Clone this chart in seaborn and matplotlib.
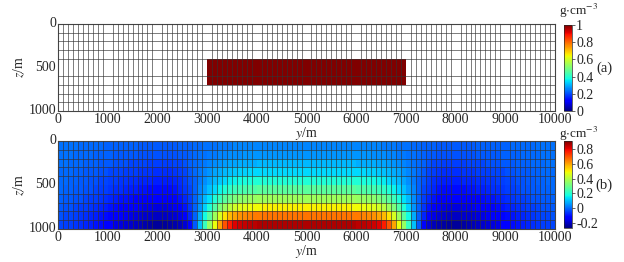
import numpy as np
import matplotlib
matplotlib.use("Agg")
import matplotlib.pyplot as plt
from matplotlib.ticker import FormatStrFormatter
import seaborn as sns

# axes / grid
y_tick_values = [0, 1000, 2000, 3000, 4000, 5000, 6000, 7000, 8000, 9000, 10000]
z_tick_values = [0, 500, 1000]
cell_size = 100
n_y = 100
n_z = 10

# (a) model: one rectangular block
block_y = [3000, 7000]
block_z = [400, 700]
block_density = 1.0
cbar_ticks_a = [0, 0.2, 0.4, 0.6, 0.8, 1.0]

# (b) inversion result, one row per 100 m depth layer
inv_z050 = [0.01, 0.01, 0.01, 0.01, 0.00, 0.00, 0.00,
            0.00, 0.00, -0.01, -0.01, -0.01, -0.01, -0.01, -0.01,
            -0.01, -0.02, -0.02, -0.02, -0.02, -0.02, -0.02, -0.02, -0.02, -0.01, -0.01,
            -0.01, 0.00, 0.00, 0.01, 0.01, 0.01, 0.02, 0.02, 0.02,
            0.03, 0.03, 0.03, 0.03, 0.03, 0.03, 0.03, 0.03, 0.03, 0.03, 0.03, 0.03, 0.03, 0.03, 0.03,
            0.03, 0.03, 0.03, 0.03, 0.03, 0.03, 0.03, 0.03, 0.03, 0.03, 0.03, 0.03, 0.03, 0.03, 0.03,
            0.02, 0.02, 0.02, 0.01, 0.01, 0.01, 0.00, 0.00, -0.01,
            -0.01, -0.01, -0.02, -0.02, -0.02, -0.02, -0.02, -0.02, -0.02, -0.02, -0.01,
            -0.01, -0.01, -0.01, -0.01, -0.01, -0.01, 0.00, 0.00,
            0.00, 0.00, 0.00, 0.01, 0.01, 0.01, 0.01]
inv_z150 = [0.01, 0.01, 0.01, 0.00, 0.00, 0.00, 0.00,
            -0.01, -0.01, -0.01, -0.01, -0.02, -0.02, -0.02, -0.02,
            -0.02, -0.03, -0.03, -0.03, -0.03, -0.03, -0.03, -0.03, -0.03, -0.02, -0.02,
            -0.01, 0.00, 0.01, 0.01, 0.02, 0.02, 0.03, 0.03, 0.04,
            0.04, 0.04, 0.05, 0.05, 0.05, 0.05, 0.05, 0.05, 0.05, 0.05, 0.05, 0.05, 0.05, 0.05, 0.05,
            0.05, 0.05, 0.05, 0.05, 0.05, 0.05, 0.05, 0.05, 0.05, 0.05, 0.05, 0.05, 0.05, 0.04, 0.04,
            0.04, 0.03, 0.03, 0.02, 0.02, 0.01, 0.01, 0.00, -0.01,
            -0.02, -0.02, -0.03, -0.03, -0.03, -0.03, -0.03, -0.03, -0.03, -0.03, -0.02,
            -0.02, -0.02, -0.02, -0.02, -0.01, -0.01, -0.01, -0.01,
            0.00, 0.00, 0.00, 0.00, 0.01, 0.01, 0.01]
inv_z250 = [0.01, 0.01, 0.00, 0.00, 0.00, -0.01, -0.01,
            -0.01, -0.02, -0.02, -0.02, -0.03, -0.03, -0.03, -0.04,
            -0.04, -0.04, -0.04, -0.05, -0.05, -0.05, -0.05, -0.05, -0.04, -0.04, -0.03,
            -0.01, 0.00, 0.01, 0.02, 0.03, 0.04, 0.05, 0.06, 0.07,
            0.07, 0.08, 0.08, 0.08, 0.08, 0.09, 0.09, 0.09, 0.09, 0.09, 0.09, 0.09, 0.09, 0.09, 0.09,
            0.09, 0.09, 0.09, 0.09, 0.09, 0.09, 0.09, 0.09, 0.09, 0.09, 0.08, 0.08, 0.08, 0.08, 0.07,
            0.07, 0.06, 0.05, 0.04, 0.03, 0.02, 0.01, 0.00, -0.01,
            -0.03, -0.04, -0.04, -0.05, -0.05, -0.05, -0.05, -0.05, -0.04, -0.04, -0.04,
            -0.04, -0.03, -0.03, -0.03, -0.02, -0.02, -0.02, -0.01,
            -0.01, -0.01, 0.00, 0.00, 0.00, 0.01, 0.01]
inv_z350 = [0.00, 0.00, 0.00, -0.01, -0.01, -0.02, -0.02,
            -0.02, -0.03, -0.03, -0.04, -0.04, -0.04, -0.05, -0.05,
            -0.05, -0.06, -0.06, -0.06, -0.07, -0.07, -0.07, -0.07, -0.06, -0.05, -0.04,
            -0.02, 0.00, 0.02, 0.03, 0.05, 0.07, 0.08, 0.09, 0.10,
            0.11, 0.12, 0.12, 0.13, 0.13, 0.13, 0.13, 0.13, 0.13, 0.13, 0.13, 0.13, 0.13, 0.13, 0.13,
            0.13, 0.13, 0.13, 0.13, 0.13, 0.13, 0.13, 0.13, 0.13, 0.13, 0.13, 0.13, 0.12, 0.12, 0.11,
            0.10, 0.09, 0.08, 0.07, 0.05, 0.03, 0.02, 0.00, -0.02,
            -0.04, -0.05, -0.06, -0.07, -0.07, -0.07, -0.07, -0.06, -0.06, -0.06, -0.05,
            -0.05, -0.05, -0.04, -0.04, -0.04, -0.03, -0.03, -0.02,
            -0.02, -0.02, -0.01, -0.01, 0.00, 0.00, 0.00]
inv_z450 = [0.00, 0.00, -0.01, -0.01, -0.02, -0.02, -0.03,
            -0.03, -0.04, -0.04, -0.05, -0.05, -0.06, -0.06, -0.07,
            -0.07, -0.08, -0.08, -0.08, -0.09, -0.09, -0.09, -0.09, -0.08, -0.07, -0.05,
            -0.03, -0.01, 0.02, 0.04, 0.07, 0.09, 0.11, 0.13, 0.15,
            0.16, 0.17, 0.18, 0.18, 0.19, 0.19, 0.19, 0.19, 0.19, 0.19, 0.19, 0.19, 0.19, 0.19, 0.19,
            0.19, 0.19, 0.19, 0.19, 0.19, 0.19, 0.19, 0.19, 0.19, 0.19, 0.19, 0.18, 0.18, 0.17, 0.16,
            0.15, 0.13, 0.11, 0.09, 0.07, 0.04, 0.02, -0.01, -0.03,
            -0.05, -0.07, -0.08, -0.09, -0.09, -0.09, -0.09, -0.08, -0.08, -0.08, -0.07,
            -0.07, -0.06, -0.06, -0.05, -0.05, -0.04, -0.04, -0.03,
            -0.03, -0.02, -0.02, -0.01, -0.01, 0.00, 0.00]
inv_z550 = [0.00, -0.01, -0.01, -0.02, -0.02, -0.03, -0.03,
            -0.04, -0.05, -0.05, -0.06, -0.07, -0.07, -0.08, -0.09,
            -0.09, -0.10, -0.10, -0.11, -0.11, -0.11, -0.11, -0.11, -0.10, -0.08, -0.06,
            -0.04, -0.01, 0.03, 0.06, 0.10, 0.13, 0.16, 0.19, 0.21,
            0.23, 0.24, 0.25, 0.26, 0.26, 0.27, 0.27, 0.27, 0.27, 0.27, 0.27, 0.27, 0.27, 0.27, 0.27,
            0.27, 0.27, 0.27, 0.27, 0.27, 0.27, 0.27, 0.27, 0.27, 0.27, 0.26, 0.26, 0.25, 0.24, 0.23,
            0.21, 0.19, 0.16, 0.13, 0.10, 0.06, 0.03, -0.01, -0.04,
            -0.06, -0.08, -0.10, -0.11, -0.11, -0.11, -0.11, -0.11, -0.10, -0.10, -0.09,
            -0.09, -0.08, -0.07, -0.07, -0.06, -0.05, -0.05, -0.04,
            -0.03, -0.03, -0.02, -0.02, -0.01, -0.01, 0.00]
inv_z650 = [-0.01, -0.02, -0.02, -0.03, -0.03, -0.04, -0.05,
            -0.05, -0.06, -0.07, -0.08, -0.09, -0.10, -0.10, -0.11,
            -0.12, -0.12, -0.13, -0.13, -0.14, -0.14, -0.14, -0.13, -0.12, -0.10, -0.08,
            -0.05, -0.01, 0.04, 0.09, 0.14, 0.19, 0.23, 0.27, 0.30,
            0.32, 0.34, 0.35, 0.36, 0.36, 0.37, 0.37, 0.37, 0.37, 0.37, 0.37, 0.37, 0.37, 0.37, 0.37,
            0.37, 0.37, 0.37, 0.37, 0.37, 0.37, 0.37, 0.37, 0.37, 0.37, 0.36, 0.36, 0.35, 0.34, 0.32,
            0.30, 0.27, 0.23, 0.19, 0.14, 0.09, 0.04, -0.01, -0.05,
            -0.08, -0.10, -0.12, -0.13, -0.14, -0.14, -0.14, -0.13, -0.13, -0.12, -0.12,
            -0.11, -0.10, -0.10, -0.09, -0.08, -0.07, -0.06, -0.05,
            -0.05, -0.04, -0.03, -0.03, -0.02, -0.02, -0.01]
inv_z750 = [-0.02, -0.03, -0.03, -0.04, -0.05, -0.05, -0.06,
            -0.07, -0.08, -0.09, -0.10, -0.11, -0.12, -0.13, -0.14,
            -0.14, -0.15, -0.16, -0.16, -0.17, -0.17, -0.17, -0.16, -0.15, -0.13, -0.10,
            -0.06, -0.01, 0.05, 0.12, 0.19, 0.26, 0.32, 0.37, 0.41,
            0.44, 0.46, 0.47, 0.48, 0.49, 0.49, 0.50, 0.50, 0.50, 0.50, 0.50, 0.50, 0.50, 0.50, 0.50,
            0.50, 0.50, 0.50, 0.50, 0.50, 0.50, 0.50, 0.50, 0.50, 0.49, 0.49, 0.48, 0.47, 0.46, 0.44,
            0.41, 0.37, 0.32, 0.26, 0.19, 0.12, 0.05, -0.01, -0.06,
            -0.10, -0.13, -0.15, -0.16, -0.17, -0.17, -0.17, -0.16, -0.16, -0.15, -0.14,
            -0.14, -0.13, -0.12, -0.11, -0.10, -0.09, -0.08, -0.07,
            -0.06, -0.05, -0.05, -0.04, -0.03, -0.03, -0.02]
inv_z850 = [-0.03, -0.04, -0.04, -0.05, -0.06, -0.07, -0.08,
            -0.09, -0.10, -0.11, -0.12, -0.13, -0.14, -0.15, -0.16,
            -0.17, -0.18, -0.19, -0.19, -0.20, -0.20, -0.20, -0.19, -0.18, -0.16, -0.13,
            -0.08, -0.01, 0.08, 0.17, 0.27, 0.37, 0.45, 0.52, 0.57,
            0.60, 0.62, 0.63, 0.64, 0.65, 0.65, 0.66, 0.66, 0.66, 0.66, 0.66, 0.66, 0.66, 0.66, 0.66,
            0.66, 0.66, 0.66, 0.66, 0.66, 0.66, 0.66, 0.66, 0.66, 0.65, 0.65, 0.64, 0.63, 0.62, 0.60,
            0.57, 0.52, 0.45, 0.37, 0.27, 0.17, 0.08, -0.01, -0.08,
            -0.13, -0.16, -0.18, -0.19, -0.20, -0.20, -0.20, -0.19, -0.19, -0.18, -0.17,
            -0.16, -0.15, -0.14, -0.13, -0.12, -0.11, -0.10, -0.09,
            -0.08, -0.07, -0.06, -0.05, -0.04, -0.04, -0.03]
inv_z950 = [-0.04, -0.05, -0.05, -0.06, -0.07, -0.08, -0.09,
            -0.10, -0.11, -0.13, -0.14, -0.16, -0.17, -0.18, -0.19,
            -0.20, -0.21, -0.22, -0.23, -0.24, -0.24, -0.24, -0.23, -0.22, -0.21, -0.18,
            -0.12, -0.02, 0.10, 0.22, 0.36, 0.48, 0.60, 0.70, 0.77,
            0.81, 0.83, 0.84, 0.85, 0.85, 0.86, 0.86, 0.86, 0.86, 0.86, 0.86, 0.86, 0.86, 0.86, 0.86,
            0.86, 0.86, 0.86, 0.86, 0.86, 0.86, 0.86, 0.86, 0.86, 0.86, 0.85, 0.85, 0.84, 0.83, 0.81,
            0.77, 0.70, 0.60, 0.48, 0.36, 0.22, 0.10, -0.02, -0.12,
            -0.18, -0.21, -0.22, -0.23, -0.24, -0.24, -0.24, -0.23, -0.22, -0.21, -0.20,
            -0.19, -0.18, -0.17, -0.16, -0.14, -0.13, -0.11, -0.10,
            -0.09, -0.08, -0.07, -0.06, -0.05, -0.05, -0.04]
inv_range = [-0.27, 0.91]
cbar_ticks_b = [-0.2, 0, 0.2, 0.4, 0.6, 0.8]

inverted = np.array([inv_z050, inv_z150, inv_z250, inv_z350, inv_z450,
                     inv_z550, inv_z650, inv_z750, inv_z850, inv_z950])
assert inverted.shape == (n_z, n_y), inverted.shape

sns.set_style("white")
plt.rcParams["font.family"] = "Liberation Serif"
plt.rcParams["mathtext.fontset"] = "stix"
plt.rcParams["axes.unicode_minus"] = False

y_centers = np.arange(n_y) * cell_size + cell_size / 2
z_centers = np.arange(n_z) * cell_size + cell_size / 2
inside = ((z_centers[:, None] > block_z[0]) & (z_centers[:, None] < block_z[1])
          & (y_centers[None, :] > block_y[0]) & (y_centers[None, :] < block_y[1]))
model = np.where(inside, block_density, 0.0)

W, H = 624, 262
fig = plt.figure(figsize=(W / 100, H / 100), dpi=100)


def box(x0, y0, x1, y1):
    return [x0 / W, 1 - y1 / H, (x1 - x0) / W, (y1 - y0) / H]


ax1 = fig.add_axes(box(58, 24, 555, 111))
cax1 = fig.add_axes(box(564, 25, 572, 111))
ax2 = fig.add_axes(box(58, 141, 555, 229))
cax2 = fig.add_axes(box(564, 141, 572, 228))

sns.heatmap(model, mask=(model == 0), ax=ax1, cbar_ax=cax1, cmap="jet",
            vmin=0, vmax=1, cbar_kws={"ticks": cbar_ticks_a})
sns.heatmap(inverted, ax=ax2, cbar_ax=cax2, cmap="jet",
            vmin=inv_range[0], vmax=inv_range[1], cbar_kws={"ticks": cbar_ticks_b})

for ax in (ax1, ax2):
    ax.set_xticks(np.array(y_tick_values) / cell_size)
    ax.set_xticklabels([str(v) for v in y_tick_values], rotation=0)
    ax.set_yticks(np.array(z_tick_values) / cell_size)
    ax.set_yticklabels([str(v) for v in z_tick_values], rotation=0, va="center")
    ax.set_xticks(np.arange(n_y + 1), minor=True)
    ax.set_yticks(np.arange(n_z + 1), minor=True)
    ax.grid(True, which="minor", color="#333333", lw=0.45)
    ax.grid(False, which="major")
    ax.set_axisbelow(False)
    ax.tick_params(which="minor", length=0)
    ax.tick_params(which="major", length=0, labelsize=10, pad=1.5)
    for s in ax.spines.values():
        s.set_visible(True)
        s.set_color("#444444")
        s.set_linewidth(0.8)
    ax.set_xlabel("$y$/m", fontsize=10, labelpad=-1)
    ax.set_ylabel("$z$/m", fontsize=10, labelpad=1)

for cax in (cax1, cax2):
    cax.tick_params(length=2, width=0.5, labelsize=10, pad=1)
    cax.yaxis.set_major_formatter(FormatStrFormatter("%g"))
    for s in cax.spines.values():
        s.set_linewidth(0.5)

fig.text(559 / W, 1 - 11 / H, r"g$\cdot$cm$^{-3}$", fontsize=9.5, ha="left", va="center")
fig.text(559 / W, 1 - 134 / H, r"g$\cdot$cm$^{-3}$", fontsize=9.5, ha="left", va="center")
fig.text(604 / W, 1 - 68 / H, "(a)", fontsize=10.5, ha="center", va="center")
fig.text(604 / W, 1 - 185 / H, "(b)", fontsize=10.5, ha="center", va="center")

fig.savefig("out.png", dpi=100)
